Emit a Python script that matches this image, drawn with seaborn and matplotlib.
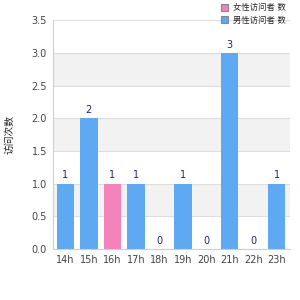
import pandas as pd
import matplotlib.pyplot as plt
import seaborn as sns

# Datos
hours = ['14h', '15h', '16h', '17h', '18h', '19h', '20h', '21h', '22h', '23h']
pink_vals = [0, 0, 1, 0, 0, 0, 0, 0, 0, 0]
blue_vals = [1, 2, 0, 1, 0, 1, 0, 3, 0, 1]
series_names = ['女性访问者 数', '男性访问者 数']
y_label = '访问次数'
colors = ['#f283bb', '#5fa8f2']

df = pd.DataFrame({
    'hour': hours * 2,
    'value': pink_vals + blue_vals,
    'serie': [series_names[0]] * len(hours) + [series_names[1]] * len(hours),
})
totals = [p + b for p, b in zip(pink_vals, blue_vals)]

sns.set_style('white')
plt.rcParams['font.family'] = ['DejaVu Sans', 'Noto Sans CJK SC']

fig = plt.figure(figsize=(3, 3), dpi=100)
ax = fig.add_axes([0.175, 0.17, 0.79, 0.763])

# bandas alternas de fondo
for lo in [0.5, 1.5, 2.5]:
    ax.axhspan(lo, lo + 0.5, color='#f2f2f2', zorder=0, lw=0)

sns.barplot(data=df, x='hour', y='value', hue='serie', palette=colors,
            dodge=False, width=0.75, ax=ax, zorder=2, legend=False,
            saturation=1, linewidth=0)

for i, t in enumerate(totals):
    ax.text(i, t + 0.05, str(t), ha='center', va='bottom', fontsize=7, color='#1a237e')

ax.set_ylim(0, 3.5)
ax.set_xlim(-0.55, 9.55)
ax.set_yticks([0, 0.5, 1, 1.5, 2, 2.5, 3, 3.5])
ax.set_yticklabels(['0.0', '0.5', '1.0', '1.5', '2.0', '2.5', '3.0', '3.5'])
ax.yaxis.grid(True, color='#dddddd', lw=0.8, zorder=1)
ax.set_axisbelow(True)
ax.tick_params(axis='both', labelsize=7, colors='#444444', length=0, pad=4)
ax.set_xlabel('')
ax.set_ylabel(y_label, fontsize=7, color='#222222', labelpad=12)
for s in ['top', 'right']:
    ax.spines[s].set_visible(False)
for s in ['left', 'bottom']:
    ax.spines[s].set_color('#d0d0d0')
    ax.spines[s].set_linewidth(0.8)

handles = [plt.Rectangle((0, 0), 1, 1, facecolor=c, edgecolor='#888888', lw=0.8) for c in colors]
fig.legend(handles, series_names, loc='upper left', bbox_to_anchor=(0.71, 1.015),
           frameon=False, fontsize=6, handlelength=0.9, handleheight=0.9,
           handletextpad=0.6, labelspacing=0.45)

fig.savefig('out.png', dpi=100)
